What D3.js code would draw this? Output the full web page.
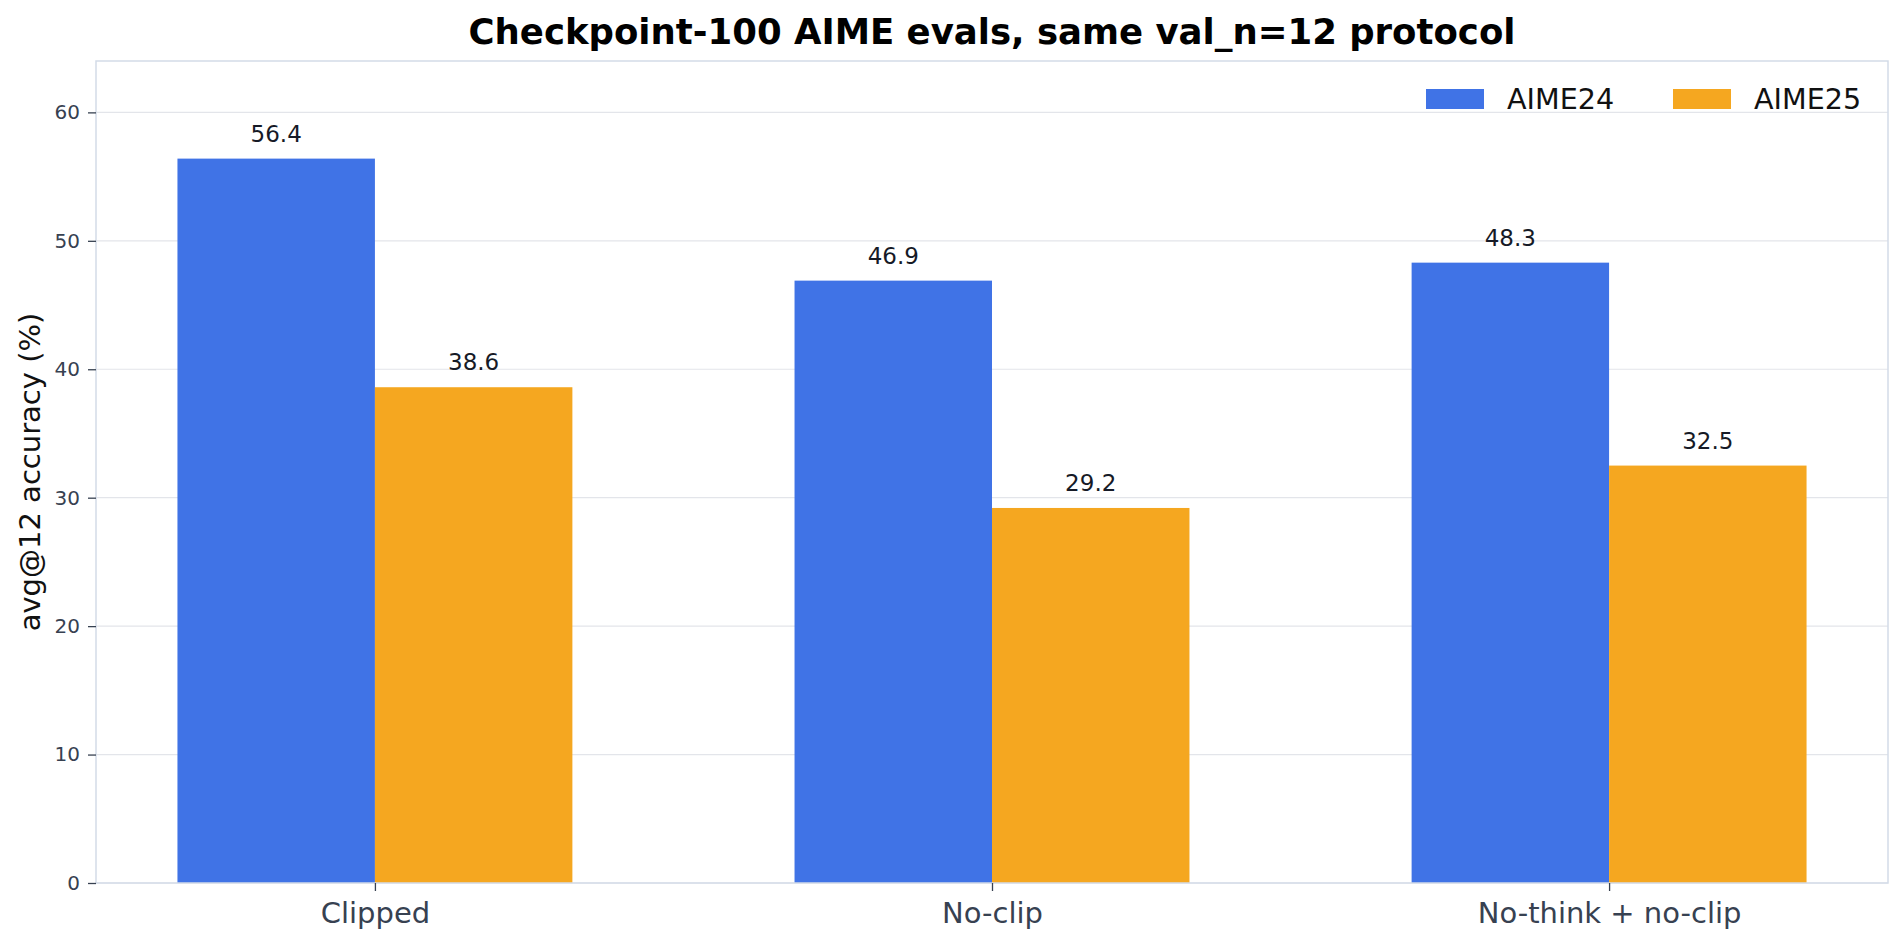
<!DOCTYPE html>
<html>
<head>
<meta charset="utf-8">
<script src="https://cdn.jsdelivr.net/npm/d3@7"></script>
<style>
  body { margin: 0; background: #fff; }
  svg { font-family: "DejaVu Sans", sans-serif; }
</style>
</head>
<body>
<div id="chart"></div>
<script>
// ... data
const categories = ['Clipped', 'No-clip', 'No-think + no-clip'];
const seriesNames = ['AIME24', 'AIME25'];
const aime24 = [56.4, 46.9, 48.3];
const aime25 = [38.6, 29.2, 32.5];
const yTicks = [0, 10, 20, 30, 40, 50, 60];
const colors = ['#4073e6', '#f5a720'];

const W = 1904, H = 944;
const margin = {top: 61, right: 16, bottom: 61, left: 96};
const width = W - margin.left - margin.right;
const height = H - margin.top - margin.bottom;

const svg = d3.select('#chart').append('svg')
    .attr('width', W)
    .attr('height', H);

const g = svg.append('g')
    .attr('transform', 'translate(' + margin.left + ',' + margin.top + ')');

const x = d3.scalePoint()
    .domain(categories)
    .range([0, width])
    .padding(0.452);

const barW = x.step() * 0.32;

const y = d3.scaleLinear()
    .domain([0, 64])
    .range([height, 0]);

// ... grid
g.append('g')
    .selectAll('line')
    .data(yTicks)
    .join('line')
    .attr('x1', 0)
    .attr('x2', width)
    .attr('y1', d => y(d))
    .attr('y2', d => y(d))
    .attr('stroke', '#e3e5ea')
    .attr('stroke-width', 1.2);

// ... bars
const series = [aime24, aime25];
series.forEach((vals, s) => {
    const off = s === 0 ? -barW : 0;
    g.append('g')
        .selectAll('rect')
        .data(vals)
        .join('rect')
        .attr('x', (d, i) => x(categories[i]) + off)
        .attr('y', d => y(d))
        .attr('width', barW)
        .attr('height', d => height - y(d))
        .attr('fill', colors[s]);

    g.append('g')
        .selectAll('text')
        .data(vals)
        .join('text')
        .attr('x', (d, i) => x(categories[i]) + off + barW / 2)
        .attr('y', d => y(d) - 17)
        .attr('text-anchor', 'middle')
        .attr('font-size', 23)
        .attr('fill', '#161a26')
        .text(d => d.toFixed(1));
});

// ... frame
g.append('rect')
    .attr('x', 0)
    .attr('y', 0)
    .attr('width', width)
    .attr('height', height)
    .attr('fill', 'none')
    .attr('stroke', '#d3dbe8')
    .attr('stroke-width', 1.5);

// ... axes
const yAxis = d3.axisLeft(y)
    .tickValues(yTicks)
    .tickSize(8)
    .tickPadding(8)
    .tickFormat(d3.format('d'));

const ya = g.append('g').call(yAxis);
ya.select('.domain').remove();
ya.selectAll('line').attr('stroke', '#374151').attr('stroke-width', 1.3);
ya.selectAll('text').attr('font-size', 20).attr('fill', '#374151')
    .attr('font-family', '"DejaVu Sans", sans-serif');

const xAxis = d3.axisBottom(x)
    .tickSize(8)
    .tickPadding(11);

const xa = g.append('g')
    .attr('transform', 'translate(0,' + height + ')')
    .call(xAxis);
xa.select('.domain').remove();
xa.selectAll('line').attr('stroke', '#374151').attr('stroke-width', 1.3);
xa.selectAll('text').attr('font-size', 29).attr('fill', '#374151')
    .attr('font-family', '"DejaVu Sans", sans-serif');

// ... y label
svg.append('text')
    .attr('transform', 'translate(40,' + (margin.top + height / 2) + ') rotate(-90)')
    .attr('text-anchor', 'middle')
    .attr('font-size', 29)
    .attr('fill', '#111')
    .text('avg@12 accuracy (%)');

// ... title
svg.append('text')
    .attr('x', margin.left + width / 2)
    .attr('y', 44)
    .attr('text-anchor', 'middle')
    .attr('font-size', 35.5)
    .attr('font-weight', 'bold')
    .attr('fill', '#000')
    .text('Checkpoint-100 AIME evals, same val_n=12 protocol');

// ... legend
const legend = svg.append('g')
    .attr('transform', 'translate(1426,89)');
const legendX = [0, 247];
seriesNames.forEach((name, i) => {
    legend.append('rect')
        .attr('x', legendX[i])
        .attr('y', 0)
        .attr('width', 58)
        .attr('height', 20)
        .attr('fill', colors[i]);
    legend.append('text')
        .attr('x', legendX[i] + 81)
        .attr('y', 20)
        .attr('font-size', 28.6)
        .attr('fill', '#111')
        .text(name);
});
</script>
</body>
</html>
